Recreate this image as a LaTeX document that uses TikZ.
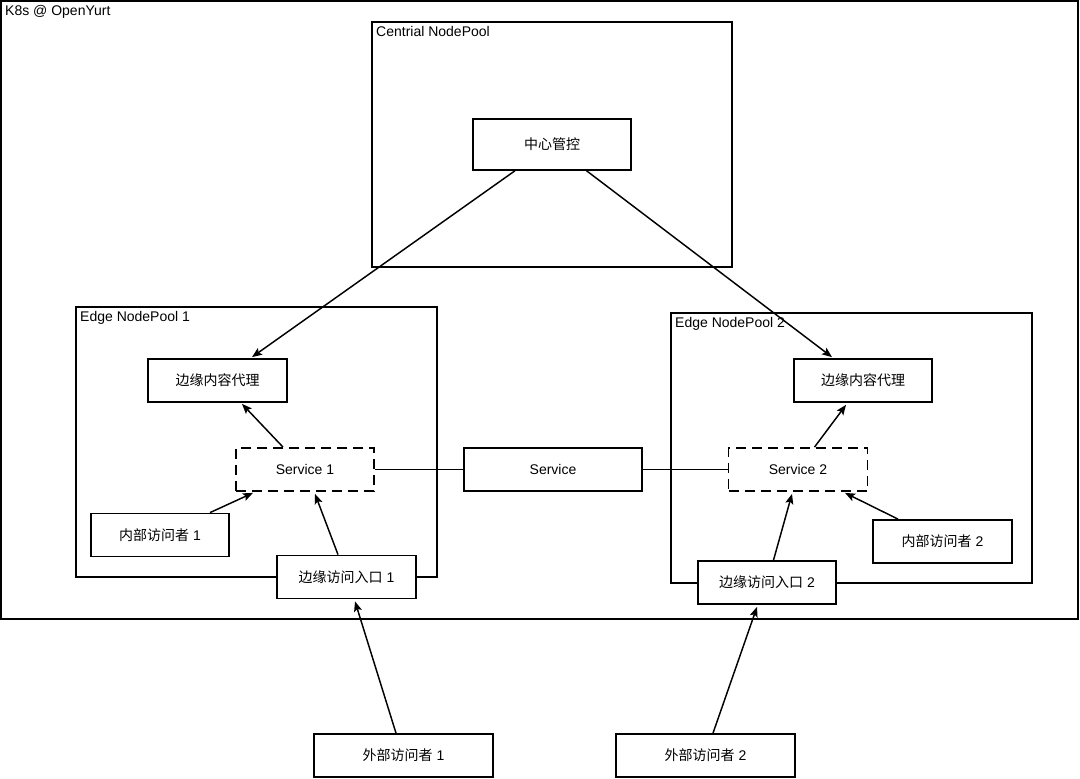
\documentclass[tikz,border=0pt]{standalone}
\usepackage{fontspec}
\setmainfont{Liberation Sans}
\newfontfamily\cjk{Noto Sans CJK SC}
\usetikzlibrary{arrows.meta,calc,positioning}

\begin{document}
\begin{tikzpicture}[
    x=0.75pt, y=-0.75pt,
    >={Stealth[length=7.5pt,width=6pt,inset=1.5pt]},
    font=\fontsize{10.5}{12.6}\selectfont,
    pool/.style={draw, line width=1.1pt, inner sep=0pt},
    poollabel/.style={anchor=north west, inner sep=3.5pt},
    box/.style={draw, line width=1.1pt, fill=white, inner sep=0pt,
      minimum width=#1*0.75pt, minimum height=32.5pt},
    svcbox/.style={box=#1, dash pattern=on 7.5pt off 4.5pt},
    conn/.style={line width=1.1pt},
    arr/.style={conn, ->}
  ]
  \useasboundingbox (0,0) rectangle (1080,778);

  % containers
  \node[pool, minimum width=807.75pt, minimum height=463.5pt] (k8s) at (539.5,310) {};
  \node[poollabel] at (k8s.north west) {K8s @ OpenYurt};
  \node[pool, minimum width=270pt, minimum height=183.75pt] (central) at (552,144.5) {};
  \node[poollabel] at (central.north west) {Centrial NodePool};
  \node[pool, minimum width=270.75pt, minimum height=202.5pt] (poolA) at (256.5,442) {};
  \node[poollabel] at (poolA.north west) {Edge NodePool 1};
  \node[pool, minimum width=270.75pt, minimum height=202.5pt] (poolB) at (851.5,448) {};
  \node[poollabel] at (poolB.north west) {Edge NodePool 2};

  % nodes
  \node[box=158, minimum height=38.25pt] (ctrl) at (552,144.5) {\cjk 中心管控};
  \node[box=139] (proxyA) at (217.5,380.5) {\cjk 边缘内容代理};
  \node[svcbox=138] (svcA) at (305,469.5) {Service 1};
  \node[box=138] (innerA) at (160,535) {{\cjk 内部访问者} 1};
  \node[box=139] (gateA) at (346.5,577) {{\cjk 边缘访问入口} 1};
  \node[box=178] (svc) at (553,469.5) {Service};
  \node[box=138] (proxyB) at (863,380.5) {\cjk 边缘内容代理};
  \node[svcbox=139] (svcB) at (798,469.5) {Service 2};
  \node[box=139] (innerB) at (942.5,541.5) {{\cjk 内部访问者} 2};
  \node[box=138] (gateB) at (767,582.5) {{\cjk 边缘访问入口} 2};
  \node[box=179] (extA) at (403.5,755.5) {{\cjk 外部访问者} 1};
  \node[box=179] (extB) at (705.5,755.5) {{\cjk 外部访问者} 2};

  % connectors
  \draw[arr] ($(ctrl.south)+(-37,0)$) -- ($(proxyA.north)+(34.5,-1)$);
  \draw[arr] ($(ctrl.south)+(34.5,0)$) -- ($(proxyB.north)+(-31,-1)$);
  \draw[arr] ($(svcA.north)+(-22,0)$) -- ($(proxyA.south)+(24.5,1)$);
  \draw[arr] ($(innerA.north)+(50,0)$) -- ($(svcA.south)+(-52,1)$);
  \draw[arr] ($(gateA.north)+(-8.5,0)$) -- ($(svcA.south)+(10,2)$);
  \draw[arr] ($(svcB.north)+(16.5,0)$) -- ($(proxyB.south)+(-17,2)$);
  \draw[arr] ($(innerB.north)+(-44.5,0)$) -- ($(svcB.south)+(47,1)$);
  \draw[arr] ($(gateB.north)+(6.5,0)$) -- ($(svcB.south)+(-6,2)$);
  \draw[arr] ($(extA.north)+(-7.5,0)$) -- ($(gateA.south)+(8.5,2)$);
  \draw[arr] ($(extB.north)+(7.5,0)$) -- ($(gateB.south)+(-10,2)$);
  \draw[conn] (svcA.east) -- (svc.west);
  \draw[conn] (svc.east) -- (svcB.west);
\end{tikzpicture}
\end{document}
